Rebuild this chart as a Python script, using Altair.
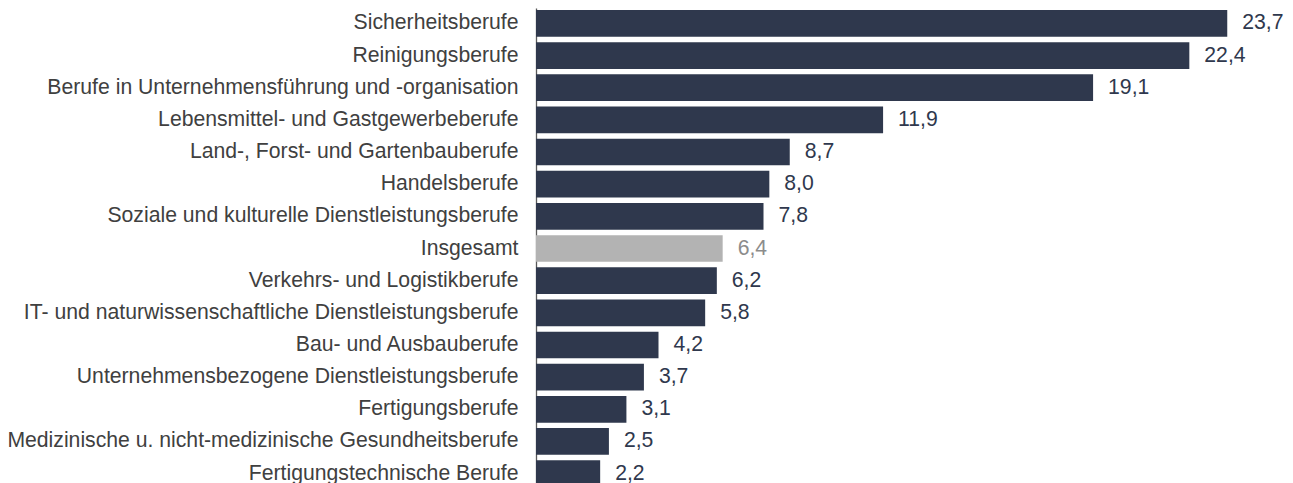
import altair as alt
import pandas as pd

berufe = [
    "Sicherheitsberufe",
    "Reinigungsberufe",
    "Berufe in Unternehmensführung und -organisation",
    "Lebensmittel- und Gastgewerbeberufe",
    "Land-, Forst- und Gartenbauberufe",
    "Handelsberufe",
    "Soziale und kulturelle Dienstleistungsberufe",
    "Insgesamt",
    "Verkehrs- und Logistikberufe",
    "IT- und naturwissenschaftliche Dienstleistungsberufe",
    "Bau- und Ausbauberufe",
    "Unternehmensbezogene Dienstleistungsberufe",
    "Fertigungsberufe",
    "Medizinische u. nicht-medizinische Gesundheitsberufe",
    "Fertigungstechnische Berufe",
]
werte = [23.7, 22.4, 19.1, 11.9, 8.7, 8.0, 7.8, 6.4, 6.2, 5.8, 4.2, 3.7, 3.1, 2.5, 2.2]

df = pd.DataFrame({
    "Beruf": berufe,
    "Wert": werte,
    "Label": [f"{v:.1f}".replace(".", ",") for v in werte],
})

FONT = "Liberation Sans"
NAVY = "#2f384d"
GRAY_BAR = "#b3b3b3"
GRAY_TXT = "#8c8c8c"

is_total = alt.datum.Beruf == "Insgesamt"

base = alt.Chart(df).encode(
    y=alt.Y(
        "Beruf:N",
        sort=berufe,
        title=None,
        scale=alt.Scale(paddingInner=0.169, paddingOuter=0.062),
        axis=alt.Axis(
            ticks=False,
            labelFont=FONT,
            labelFontSize=21.2,
            labelColor="#404040",
            labelPadding=18,
            labelLimit=600,
            domain=True,
            domainColor="#595959",
            domainWidth=1.3,
        ),
    ),
    x=alt.X("Wert:Q", title=None, axis=None, scale=alt.Scale(domain=[0, 24], nice=False)),
)

bars = base.mark_bar().encode(
    color=alt.condition(is_total, alt.value(GRAY_BAR), alt.value(NAVY))
)

text = base.mark_text(align="left", baseline="middle", dx=15, font=FONT, fontSize=21.2).encode(
    text="Label:N",
    color=alt.condition(is_total, alt.value(GRAY_TXT), alt.value(NAVY)),
)

chart = (
    alt.layer(bars, text)
    .properties(
        width=700,
        height=481,
        autosize=alt.AutoSizeParams(type="none"),
        padding={"left": 528, "top": 0, "right": 49, "bottom": 0},
    )
    .configure_view(stroke=None)
)

chart.save("out.html", embed_options={"renderer": "svg", "actions": False})
